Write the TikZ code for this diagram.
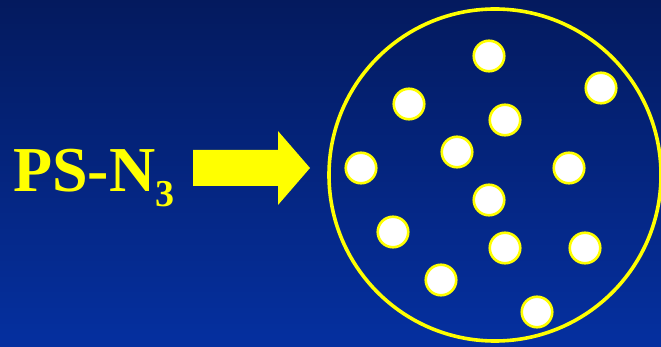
\documentclass[tikz,border=0pt]{standalone}
\usepackage{fontspec}
\setmainfont{Liberation Serif}
\usepackage{tikz}
\usepackage{xcolor}
\usetikzlibrary{positioning,calc}
\definecolor{bgtop}{HTML}{041A5E}
\definecolor{bgbot}{HTML}{0530A0}
\definecolor{signyellow}{HTML}{FFFF00}
\tikzset{
  formula/.style={text=signyellow, font=\fontsize{64}{64}\selectfont\bfseries,
                  inner sep=0pt},
  ring/.style   ={circle, draw=signyellow, line width=3.6pt, inner sep=0pt,
                  minimum size=332pt},
  bead/.style   ={circle, draw=signyellow, fill=white, line width=2.6pt,
                  inner sep=0pt, minimum size=30.5pt},
  blockarrow/.style={fill=signyellow, draw=none},
}

\begin{document}
\begin{tikzpicture}[x=1pt, y=-1pt]

% ------------------------------------------------------------- background
\useasboundingbox (0,0) rectangle (661,347);
\clip (0,0) rectangle (661,347);
\shade[top color=bgtop, bottom color=bgbot] (0,0) rectangle (661,347);

% ------------------------------------------------------------- label
\node[formula, anchor=base west] (ps) at (13,192)
  {PS-N\raisebox{-15pt}{\fontsize{38}{38}\selectfont\bfseries 3}};

% ------------------------------------------------------------- arrow
\fill[blockarrow] (193,150) -- (278,150) -- (278,131) -- (310,168)
  -- (278,205) -- (278,186) -- (193,186) -- cycle;

% ------------------------------------------------------------- particle
\node[ring] (bead0) at (495,175) {};
\foreach \i/\x/\y in {
    1/489/56,  2/601/88,  3/409/104, 4/505/120, 5/457/152,
    6/361/168, 7/569/168, 8/489/200, 9/393/232, 10/505/248,
    11/585/248, 12/441/280, 13/537/312} {
  \node[bead] (bead\i) at (\x,\y) {};
}

\end{tikzpicture}
\end{document}
